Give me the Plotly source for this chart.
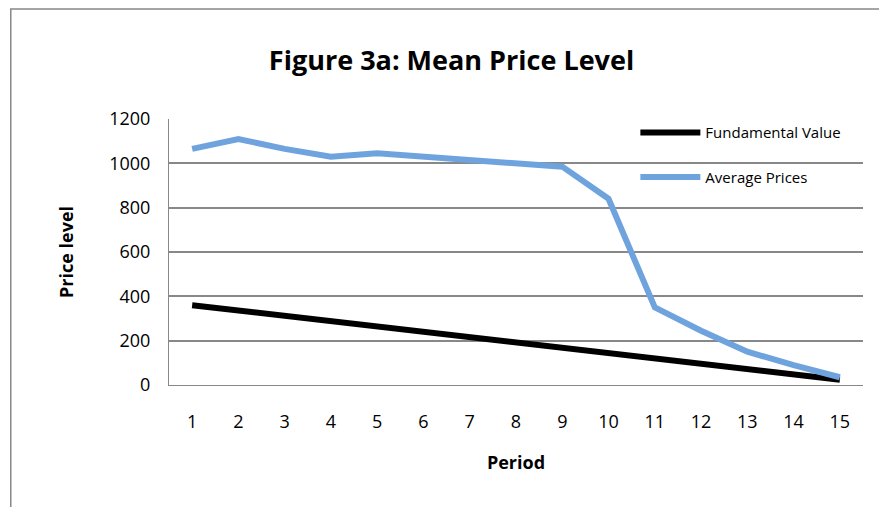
import plotly.graph_objects as go

periods = [str(i) for i in range(1, 16)]
fundamental = [360, 336, 312, 288, 264, 240, 216, 192, 168, 144, 120, 96, 72, 48, 24]
avg_prices = [1065, 1110, 1065, 1030, 1045, 1030, 1015, 1000, 985, 840, 350, 245, 150, 90, 35]

fig = go.Figure()
fig.add_trace(go.Scatter(x=periods, y=fundamental, mode="lines", name="Fundamental Value",
                         legendgroup="a", line=dict(color="black", width=6)))
fig.add_trace(go.Scatter(x=periods, y=avg_prices, mode="lines", name="Average Prices",
                         legendgroup="b", line=dict(color="#6fa3dd", width=6)))

fig.update_layout(
    width=887, height=507,
    margin=dict(l=161, r=32, t=111, b=130, autoexpand=False),
    paper_bgcolor="white", plot_bgcolor="white",
    font=dict(family="Open Sans", size=17, color="black"),
    title=dict(text="<b>Figure 3a: Mean Price Level</b>", x=0.5, xanchor="center",
               y=0.897, yanchor="middle", font=dict(size=27)),
    showlegend=True,
    legend=dict(x=0.672, y=1.01, xanchor="left", yanchor="top", bgcolor="rgba(0,0,0,0)",
                font=dict(size=15), itemwidth=60, tracegroupgap=22, traceorder="grouped"),
    xaxis=dict(title=dict(text="<b>Period</b>", font=dict(size=18), standoff=24),
               showgrid=False, range=[-0.5, 14.5], automargin=False,
               showline=True, linecolor="#888", ticks="", tickfont=dict(size=18),
               ticklabelstandoff=20),
    yaxis=dict(title=dict(text="<b>Price level</b>", font=dict(size=18), standoff=30),
               range=[0, 1200], automargin=False,
               dtick=200, showgrid=True, gridcolor="#888", gridwidth=1.5, showline=True,
               linecolor="#888", ticks="", tickfont=dict(size=18), zeroline=False,
               ticklabelstandoff=14),
    shapes=[dict(type="rect", xref="paper", yref="paper", x0=-0.228, x1=1.029,
                 y0=-0.52, y1=1.4135, line=dict(color="#888", width=1.5))],
)

fig.write_html("out.html")
